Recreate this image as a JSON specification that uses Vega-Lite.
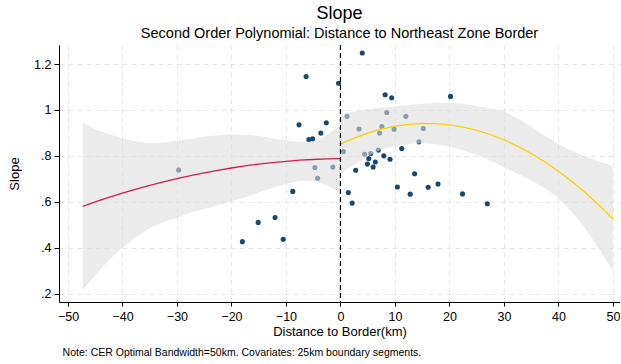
{
  "$schema": "https://vega.github.io/schema/vega-lite/v6.json",
  "padding": {"left": 8, "top": 4, "right": 0, "bottom": 4},
  "config": {
    "font": "Liberation Sans",
    "view": {"stroke": null},
    "axis": {
      "domainColor": "black", "tickColor": "black", "labelColor": "black", "titleColor": "black",
      "labelFontSize": 12.5, "titleFontSize": 13, "titleFontWeight": "normal",
      "gridColor": "#e6e6e6", "gridDash": [5, 4], "gridWidth": 1
    }
  },
  "title": {
    "text": "Note: CER Optimal Bandwidth=50km. Covariates: 25km boundary segments.",
    "orient": "bottom", "anchor": "start", "fontSize": 10.5, "fontWeight": "normal", "color": "black", "offset": 9, "dx": 54
  },
  "datasets": {
    "pts": [
      {"x": -6.3, "y": 1.146}, {"x": -0.35, "y": 1.116}, {"x": -7.6, "y": 0.935}, {"x": -2.6, "y": 0.944},
      {"x": -5.8, "y": 0.871}, {"x": -5.1, "y": 0.874}, {"x": -3.6, "y": 0.899}, {"x": -29.7, "y": 0.738},
      {"x": -4.7, "y": 0.749}, {"x": -1.4, "y": 0.751}, {"x": -4.2, "y": 0.702}, {"x": -8.75, "y": 0.645},
      {"x": -15.1, "y": 0.51}, {"x": -12.0, "y": 0.531}, {"x": -18.0, "y": 0.426}, {"x": -10.5, "y": 0.436},
      {"x": 4.0, "y": 1.248}, {"x": 8.2, "y": 1.066}, {"x": 9.4, "y": 1.053}, {"x": 20.2, "y": 1.059},
      {"x": 1.2, "y": 0.972}, {"x": 8.5, "y": 0.989}, {"x": 12.0, "y": 0.972}, {"x": 3.4, "y": 0.917},
      {"x": 7.6, "y": 0.928}, {"x": 9.85, "y": 0.916}, {"x": 7.2, "y": 0.899}, {"x": 15.2, "y": 0.919},
      {"x": 14.4, "y": 0.861}, {"x": 0.55, "y": 0.819}, {"x": 11.25, "y": 0.832}, {"x": 6.95, "y": 0.825},
      {"x": 4.45, "y": 0.807}, {"x": 5.55, "y": 0.81}, {"x": 5.2, "y": 0.788}, {"x": 7.95, "y": 0.8},
      {"x": 9.1, "y": 0.785}, {"x": 4.95, "y": 0.764}, {"x": 6.4, "y": 0.773}, {"x": 6.0, "y": 0.751},
      {"x": 2.8, "y": 0.737}, {"x": 13.6, "y": 0.722}, {"x": 10.45, "y": 0.664}, {"x": 16.1, "y": 0.663},
      {"x": 17.9, "y": 0.677}, {"x": 12.8, "y": 0.633}, {"x": 22.4, "y": 0.634}, {"x": 1.45, "y": 0.64},
      {"x": 2.15, "y": 0.594}, {"x": 26.95, "y": 0.591}
    ],
    "fit": [
      {"side": "left", "x": -47.3, "fit": 0.58, "lo": 0.216, "hi": 0.944},
      {"side": "left", "x": -45, "fit": 0.599, "lo": 0.28, "hi": 0.915},
      {"side": "left", "x": -42.5, "fit": 0.619, "lo": 0.345, "hi": 0.895},
      {"side": "left", "x": -40, "fit": 0.637, "lo": 0.4, "hi": 0.876},
      {"side": "left", "x": -37.5, "fit": 0.655, "lo": 0.445, "hi": 0.862},
      {"side": "left", "x": -35, "fit": 0.671, "lo": 0.486, "hi": 0.856},
      {"side": "left", "x": -32.5, "fit": 0.686, "lo": 0.512, "hi": 0.858},
      {"side": "left", "x": -30, "fit": 0.701, "lo": 0.53, "hi": 0.866},
      {"side": "left", "x": -27.5, "fit": 0.714, "lo": 0.553, "hi": 0.874},
      {"side": "left", "x": -25, "fit": 0.726, "lo": 0.568, "hi": 0.884},
      {"side": "left", "x": -22.5, "fit": 0.737, "lo": 0.585, "hi": 0.89},
      {"side": "left", "x": -20, "fit": 0.747, "lo": 0.601, "hi": 0.893},
      {"side": "left", "x": -17.5, "fit": 0.756, "lo": 0.62, "hi": 0.892},
      {"side": "left", "x": -15, "fit": 0.764, "lo": 0.64, "hi": 0.887},
      {"side": "left", "x": -12.5, "fit": 0.77, "lo": 0.66, "hi": 0.877},
      {"side": "left", "x": -10, "fit": 0.776, "lo": 0.678, "hi": 0.867},
      {"side": "left", "x": -7.5, "fit": 0.781, "lo": 0.69, "hi": 0.86},
      {"side": "left", "x": -5, "fit": 0.784, "lo": 0.69, "hi": 0.862},
      {"side": "left", "x": -2.5, "fit": 0.787, "lo": 0.672, "hi": 0.89},
      {"side": "left", "x": 0, "fit": 0.788, "lo": 0.64, "hi": 0.937},
      {"side": "right", "x": 0, "fit": 0.851, "lo": 0.722, "hi": 0.98},
      {"side": "right", "x": 2.5, "fit": 0.877, "lo": 0.761, "hi": 0.993},
      {"side": "right", "x": 5, "fit": 0.899, "lo": 0.797, "hi": 1.003},
      {"side": "right", "x": 7.5, "fit": 0.916, "lo": 0.828, "hi": 1.01},
      {"side": "right", "x": 10, "fit": 0.929, "lo": 0.843, "hi": 1.016},
      {"side": "right", "x": 12.5, "fit": 0.937, "lo": 0.852, "hi": 1.022},
      {"side": "right", "x": 15, "fit": 0.941, "lo": 0.855, "hi": 1.027},
      {"side": "right", "x": 17.5, "fit": 0.94, "lo": 0.85, "hi": 1.03},
      {"side": "right", "x": 20, "fit": 0.935, "lo": 0.84, "hi": 1.031},
      {"side": "right", "x": 22.5, "fit": 0.925, "lo": 0.823, "hi": 1.027},
      {"side": "right", "x": 25, "fit": 0.911, "lo": 0.805, "hi": 1.017},
      {"side": "right", "x": 27.5, "fit": 0.893, "lo": 0.78, "hi": 1.006},
      {"side": "right", "x": 30, "fit": 0.87, "lo": 0.75, "hi": 0.993},
      {"side": "right", "x": 32.5, "fit": 0.842, "lo": 0.722, "hi": 0.964},
      {"side": "right", "x": 35, "fit": 0.81, "lo": 0.694, "hi": 0.928},
      {"side": "right", "x": 37.5, "fit": 0.774, "lo": 0.659, "hi": 0.889},
      {"side": "right", "x": 40, "fit": 0.733, "lo": 0.616, "hi": 0.85},
      {"side": "right", "x": 42.5, "fit": 0.688, "lo": 0.554, "hi": 0.822},
      {"side": "right", "x": 45, "fit": 0.638, "lo": 0.48, "hi": 0.796},
      {"side": "right", "x": 47.5, "fit": 0.584, "lo": 0.393, "hi": 0.775},
      {"side": "right", "x": 50, "fit": 0.526, "lo": 0.298, "hi": 0.755}
    ],
    "cut": [{"x": 0}]
  },
  "vconcat": [
    {
      "width": 561,
      "height": 257,
      "title": {
        "text": "Slope",
        "subtitle": "Second Order Polynomial: Distance to Northeast Zone Border",
        "fontSize": 18, "subtitleFontSize": 14.5, "fontWeight": "normal",
        "color": "black", "subtitleColor": "black", "anchor": "middle", "offset": 4, "subtitlePadding": 4
      },
      "layer": [
        {
          "data": {"name": "pts"},
          "mark": {"type": "point", "filled": true, "size": 26, "opacity": 1, "color": "#1a476f"},
          "encoding": {
            "x": {"field": "x", "type": "quantitative",
                  "scale": {"domain": [-51.65, 51.3], "nice": false, "zero": false},
                  "axis": {"values": [-50, -40, -30, -20, -10, 0, 10, 20, 30, 40, 50], "title": "Distance to Border(km)",
                           "tickSize": 4, "labelPadding": 4, "titlePadding": 3, "labelFlush": false}},
            "y": {"field": "y", "type": "quantitative",
                  "scale": {"domain": [0.163, 1.283], "nice": false, "zero": false},
                  "axis": {"values": [0.2, 0.4, 0.6, 0.8, 1, 1.2], "title": "Slope", "tickSize": 5, "labelPadding": 3,
                           "titlePadding": 12, "labelFlush": false,
                           "labelExpr": "datum.value < 1 ? '.' + format(datum.value * 10, 'd') : format(datum.value, '~g')"}}
          }
        },
        {
          "data": {"name": "fit"},
          "mark": {"type": "area", "color": "#dcdcdc", "opacity": 0.58},
          "encoding": {
            "x": {"field": "x", "type": "quantitative"},
            "y": {"field": "lo", "type": "quantitative"},
            "y2": {"field": "hi"},
            "detail": {"field": "side"}
          }
        },
        {
          "data": {"name": "fit"},
          "mark": {"type": "line", "strokeWidth": 1.3},
          "encoding": {
            "x": {"field": "x", "type": "quantitative"},
            "y": {"field": "fit", "type": "quantitative"},
            "color": {"field": "side", "type": "nominal",
                      "scale": {"domain": ["left", "right"], "range": ["#d81b4f", "#ffd000"]}, "legend": null}
          }
        },
        {
          "data": {"name": "cut"},
          "mark": {"type": "rule", "color": "black", "strokeWidth": 1.2, "strokeDash": [5, 3]},
          "encoding": {"x": {"field": "x", "type": "quantitative"}}
        }
      ]
    }
  ]
}
